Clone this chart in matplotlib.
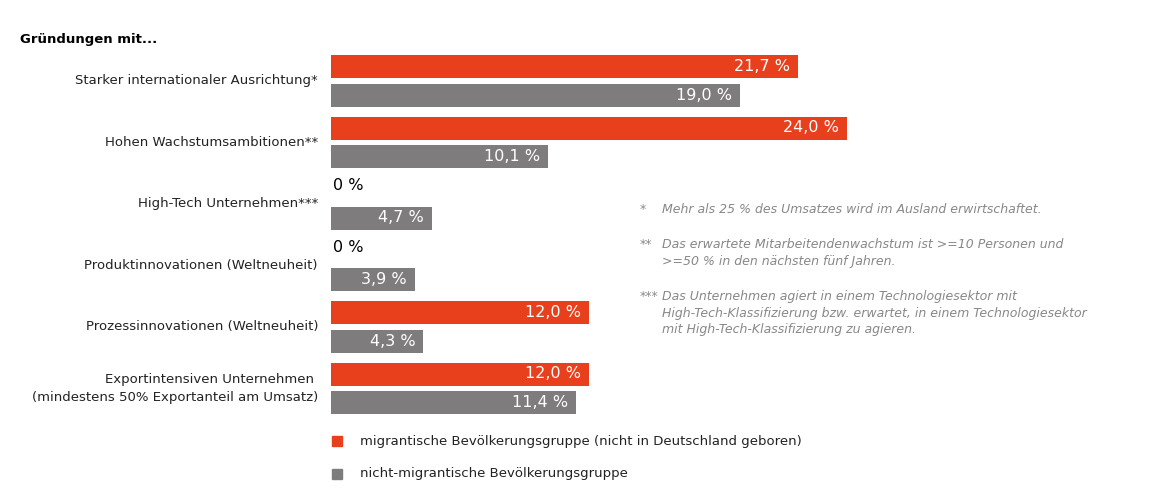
import matplotlib.pyplot as plt

categories = ["Starker internationaler Ausrichtung*", "Hohen Wachstumsambitionen**",
              "High-Tech Unternehmen***", "Produktinnovationen (Weltneuheit)",
              "Prozessinnovationen (Weltneuheit)",
              "Exportintensiven Unternehmen \n(mindestens 50% Exportanteil am Umsatz)"]
migrant = [21.7, 24.0, 0.0, 0.0, 12.0, 12.0]
non_migrant = [19.0, 10.1, 4.7, 3.9, 4.3, 11.4]
series_names = ["migrantische Bevölkerungsgruppe (nicht in Deutschland geboren)",
                "nicht-migrantische Bevölkerungsgruppe"]
notes = [("*", "Mehr als 25 % des Umsatzes wird im Ausland erwirtschaftet."),
         ("**", "Das erwartete Mitarbeitendenwachstum ist >=10 Personen und\n>=50 % in den nächsten fünf Jahren."),
         ("***", "Das Unternehmen agiert in einem Technologiesektor mit\nHigh-Tech-Klassifizierung bzw. erwartet, in einem Technologiesektor\nmit High-Tech-Klassifizierung zu agieren.")]

RED = "#E8401C"
GREY = "#7F7C7D"
W, H = 1150, 496
px = 21.5  # pixels per percent

fig = plt.figure(figsize=(W / 100, H / 100), dpi=100)
ax = fig.add_axes([331 / W, 0, 1 - 331 / W, 1])
ax.set_xlim(0, (W - 331) / px)
ax.set_ylim(H, 0)
ax.axis("off")

def fmt(v):
    s = f"{v:.1f}".replace(".", ",") if v else "0"
    return s + " %"

for i, (cat, m, n) in enumerate(zip(categories, migrant, non_migrant)):
    y0 = 66.5 + i * 61.5
    y1 = y0 + 28.5
    ax.barh(y0, m, height=23, color=RED)
    ax.barh(y1, n, height=23, color=GREY)
    for y, v in ((y0, m), (y1, n)):
        if v > 0:
            ax.text(v - 8 / px, y, fmt(v), ha="right", va="center", color="white", fontsize=11.5)
        else:
            ax.text(0.1, y - 4, fmt(v), ha="left", va="center", color="black", fontsize=11.5)
    fig.text(318 / W, 1 - (y0 + y1) / 2 / H, cat, ha="right", va="center", fontsize=9.5,
             color="#222222", linespacing=1.5)

fig.text(20 / W, 1 - 40 / H, "Gründungen mit...", fontsize=9.5, fontweight="bold", va="center")

ny = [203, 238, 290]
for (mark, txt), y in zip(notes, ny):
    fig.text(640 / W, 1 - y / H, mark, fontsize=9, color="#888888", style="italic", va="top", ha="left")
    fig.text(662 / W, 1 - y / H, txt, fontsize=9, color="#888888", style="italic", va="top",
             ha="left", linespacing=1.35)

for name, c, y in zip(series_names, [RED, GREY], [441, 474]):
    fig.patches.append(plt.Rectangle((332 / W, 1 - (y + 5) / H), 10 / W, 10 / H,
                                     transform=fig.transFigure, color=c))
    fig.text(360 / W, 1 - y / H, name, fontsize=9.5, va="center", color="#222222")

fig.savefig("out.png", dpi=100)
